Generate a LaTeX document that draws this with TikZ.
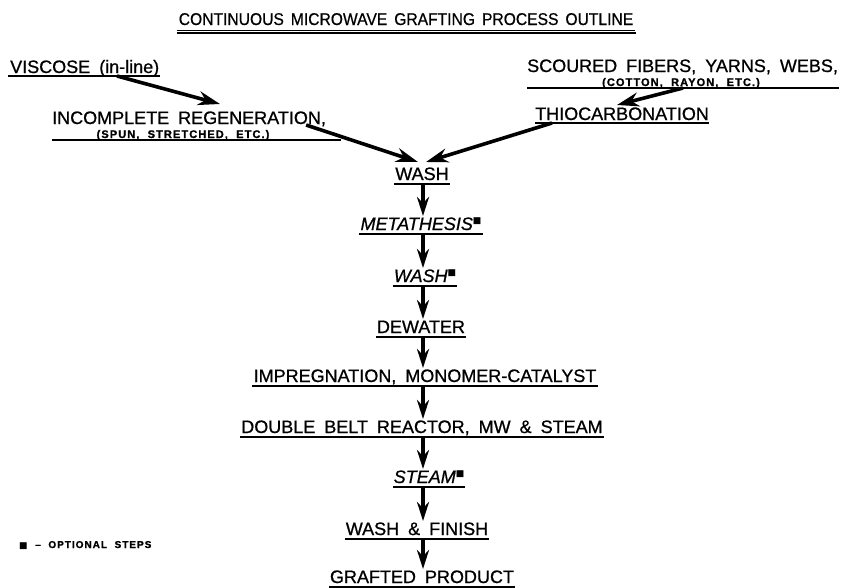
\documentclass[tikz,border=0pt]{standalone}
\usepackage{fontspec}
\setmainfont{Liberation Sans}[WordSpace=1.8,FakeBold=0.8]
\newfontfamily\titlefont{Liberation Sans}[FakeStretch=0.92,WordSpace=1.6,FakeBold=0.6]
\newfontfamily\smallfont{Liberation Sans}[LetterSpace=10,WordSpace=2,FakeBold=1.2]
\newfontfamily\symfont{DejaVu Sans}
\usetikzlibrary{arrows.meta,calc}
\newcommand\optmark{\raisebox{7pt}{\symfont\fontsize{9}{9}\selectfont ■}}
\tikzset{
  lbl/.style={inner sep=0pt, anchor=base, font=\fontsize{18}{18}\selectfont},
  lblw/.style={inner sep=0pt, anchor=base west, font=\fontsize{18}{18}\selectfont},
  small/.style={inner sep=0pt, anchor=base, font=\smallfont\bfseries\fontsize{11}{11}\selectfont},
  ul/.style={line width=1.5pt},
  arr/.style={line width=3.6pt, -{Stealth[length=22pt,width=14pt]}},
  varr/.style={line width=3.4pt, -{Stealth[length=19pt,width=12pt]}}
}
\begin{document}
\begin{tikzpicture}[x=1pt,y=-1pt]
\useasboundingbox[fill=white] (0,0) rectangle (841,587);
% title
\node[lbl, font=\titlefont\fontsize{17}{17}\selectfont] (title) at (406,25) {CONTINUOUS MICROWAVE GRAFTING PROCESS OUTLINE};
\draw[line width=1pt] ($(title.base west)+(-2,5)$) -- ($(title.base east)+(2,5)$);
\draw[line width=1.8pt] ($(title.base west)+(-2,8)$) -- ($(title.base east)+(3,8)$);
% top left
\node[lblw] (visc) at (10,73) {VISCOSE (in-line)};
\draw[ul] ($(visc.base west)+(-2,3)$) -- ($(visc.base east)+(1,3)$);
\node[lblw] (regen) at (52,124) {INCOMPLETE REGENERATION,};
\node[small] (spun) at (183,138) {(SPUN, STRETCHED, ETC.)};
\draw[ul] ($(regen.base west)+(0,16)$) -- ($(regen.base east)+(15,16)$);
% top right
\node[lblw] (scour) at (527,72) {SCOURED FIBERS, YARNS, WEBS,};
\node[small] (cotton) at (681,86) {(COTTON, RAYON, ETC.)};
\draw[ul] ($(scour.base west)+(0,16)$) -- ($(scour.base east)+(1,16)$);
\node[lblw] (thio) at (535,120) {THIOCARBONATION};
\draw[ul] ($(thio.base west)+(0,3)$) -- ($(thio.base east)+(0,3)$);
% chain
\node[lbl] (wash1) at (422,180) {WASH};
\node[lbl] (meta) at (421,230) {\itshape METATHESIS\optmark};
\node[lbl] (wash2) at (425,282) {\itshape WASH\optmark};
\node[lbl] (dewat) at (421,333) {DEWATER};
\node[lbl] (impr) at (425,382) {IMPREGNATION, MONOMER-CATALYST};
\node[lbl] (belt) at (422,433) {DOUBLE BELT REACTOR, MW \& STEAM};
\node[lbl] (steam) at (429,483) {\itshape STEAM\optmark};
\node[lbl] (finish) at (417,535) {WASH \& FINISH};
\node[lbl] (graft) at (422,583) {GRAFTED PRODUCT};
\foreach \n in {wash1,meta,wash2,dewat,impr,belt,steam,finish,graft}{
  \draw[ul] ($(\n.base west)+(-1,4)$) -- ($(\n.base east)+(1,4)$);
}
% legend
\node[small, anchor=base west, font=\smallfont\bfseries\fontsize{10}{10}\selectfont] (legend) at (19,548) {{\symfont\fontsize{9}{9}\selectfont ■} – OPTIONAL STEPS};
% diagonal arrows
\coordinate (a1s) at ($(visc.base west)+(107,3)$);
\coordinate (a1e) at ($(regen.base west)+(168,-20)$);
\coordinate (a2s) at ($(regen.base east)+(-20,1)$);
\coordinate (a3s) at ($(scour.base west)+(156,16)$);
\coordinate (a3e) at ($(thio.base west)+(82,-15)$);
\coordinate (a4s) at ($(thio.base west)+(17,3)$);
\draw[arr] (a1s) -- (a1e);
\draw[arr] (a2s) -- ($(wash1.base)+(-4,-18)$);
\draw[arr] (a3s) -- (a3e);
\draw[arr] (a4s) -- ($(wash1.base)+(4,-18)$);
% vertical arrows
\draw[varr] ($(wash1.base)+(1,5)$) -- ($(meta.base)+(2,-14)$);
\draw[varr] ($(meta.base)+(2,3)$) -- ($(wash2.base)+(-2,-14)$);
\draw[varr] ($(wash2.base)+(-2,4)$) -- ($(dewat.base)+(2,-14)$);
\draw[varr] ($(dewat.base)+(2,5)$) -- ($(impr.base)+(-2,-14)$);
\draw[varr] ($(impr.base)+(-2,4)$) -- ($(belt.base)+(1,-14)$);
\draw[varr] ($(belt.base)+(1,4)$) -- ($(steam.base)+(-6,-14)$);
\draw[varr] ($(steam.base)+(-6,4)$) -- ($(finish.base)+(6,-14)$);
\draw[varr] ($(finish.base)+(6,4)$) -- ($(graft.base)+(1,-14)$);
\end{tikzpicture}
\end{document}
